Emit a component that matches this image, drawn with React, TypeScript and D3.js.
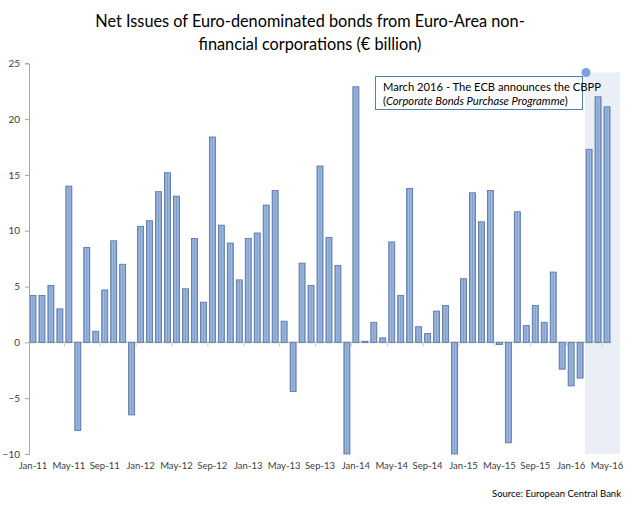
import React, { useEffect, useRef } from 'react';
import * as d3 from 'd3';

// monthly net issues, Jan-11 .. May-16 (EUR bn)
const values2011 = [4.2, 4.2, 5.1, 3.0, 14.0, -7.9, 8.5, 1.0, 4.7, 9.1, 7.0, -6.5];
const values2012 = [10.4, 10.9, 13.5, 15.2, 13.1, 4.8, 9.3, 3.6, 18.4, 10.5, 8.9, 5.6];
const values2013 = [9.3, 9.8, 12.3, 13.6, 1.9, -4.4, 7.1, 5.1, 15.8, 9.4, 6.9, -10.0];
const values2014 = [22.9, 0.1, 1.8, 0.4, 9.0, 4.2, 13.8, 1.4, 0.8, 2.8, 3.3, -10.0];
const values2015 = [5.7, 13.4, 10.8, 13.6, -0.2, -9.0, 11.7, 1.5, 3.3, 1.8, 6.3, -2.4];
const values2016 = [-3.9, -3.2, 17.3, 22.0, 21.1];

const yTicks = [-10, -5, 0, 5, 10, 15, 20, 25];
const highlighted = ['Mar-16', 'Apr-16', 'May-16'];

const title = [
  'Net Issues of Euro-denominated bonds from Euro-Area non-',
  'financial corporations (€ billion)',
];
const note = 'March 2016 - The ECB announces the CBPP';
const noteItalic = 'Corporate Bonds Purchase Programme';
const source = 'Source: European Central Bank';

const fmt = d3.timeFormat('%b-%y');
const months = d3.timeMonths(new Date(2011, 0, 1), new Date(2016, 5, 1)).map(fmt);
const values = [...values2011, ...values2012, ...values2013, ...values2014, ...values2015, ...values2016];
const data = months.map((m, i) => ({ month: m, value: values[i] }));

const FONT = 'Lato, "Open Sans", sans-serif';

function App() {
  const svgRef = useRef<SVGSVGElement>(null);

  useEffect(() => {
    document.body.style.margin = '0';
    const svg = d3.select(svgRef.current);
    svg.selectAll('*').remove();

    const x = d3.scaleBand()
      .domain(months)
      .range([28.5, 611.5])
      .paddingInner(0.33)
      .paddingOuter(0.165);

    const y = d3.scaleLinear()
      .domain([-10, 25])
      .range([454, 63.3]);

    const defs = svg.append('defs');
    const grad = defs.append('linearGradient')
      .attr('id', 'barGrad')
      .attr('x1', '0%').attr('x2', '100%')
      .attr('y1', '0%').attr('y2', '0%');
    grad.append('stop').attr('offset', '0%').attr('stop-color', '#6f8fc0');
    grad.append('stop').attr('offset', '30%').attr('stop-color', '#a3bde2');
    grad.append('stop').attr('offset', '50%').attr('stop-color', '#7d9ccc');
    grad.append('stop').attr('offset', '70%').attr('stop-color', '#a3bde2');
    grad.append('stop').attr('offset', '100%').attr('stop-color', '#6f8fc0');

    // shaded CBPP period
    const hx = x(highlighted[0])! - 1;
    svg.append('rect')
      .attr('x', hx)
      .attr('y', 72.5)
      .attr('width', 620 - hx)
      .attr('height', y(-10) - 72.5)
      .attr('fill', '#eaeff7');

    // zero line
    svg.append('line')
      .attr('x1', 29).attr('x2', 611.5)
      .attr('y1', y(0)).attr('y2', y(0))
      .attr('stroke', '#d4d4d4')
      .attr('stroke-width', 2);

    // category ticks every 4 months, on band boundaries
    const tickIdx = d3.range(4, months.length, 4);
    svg.append('g')
      .selectAll('line')
      .data(tickIdx)
      .enter()
      .append('line')
      .attr('x1', (i) => x(months[i])! - x.step() * x.paddingInner() / 2)
      .attr('x2', (i) => x(months[i])! - x.step() * x.paddingInner() / 2)
      .attr('y1', y(0))
      .attr('y2', y(0) + 4)
      .attr('stroke', '#c8c8c8');

    // bars
    svg.append('g')
      .selectAll('rect')
      .data(data)
      .enter()
      .append('rect')
      .attr('x', (d) => x(d.month)!)
      .attr('y', (d) => y(Math.max(0, d.value)))
      .attr('width', x.bandwidth())
      .attr('height', (d) => Math.abs(y(d.value) - y(0)))
      .attr('fill', 'url(#barGrad)')
      .attr('stroke', '#56729f')
      .attr('stroke-width', 0.8);

    // y axis
    const yAxis = svg.append('g')
      .attr('transform', 'translate(29,0)')
      .call(d3.axisLeft(y).tickValues(yTicks).tickSize(4).tickPadding(5).tickFormat(d3.format('d')));
    yAxis.select('.domain').attr('stroke', '#a6a6a6');
    yAxis.selectAll('.tick line').attr('stroke', '#a6a6a6');
    yAxis.selectAll('.tick text')
      .attr('fill', '#404040')
      .style('font-family', FONT)
      .style('font-size', '10px');

    // x labels
    svg.append('g')
      .selectAll('text')
      .data(d3.range(0, months.length, 4))
      .enter()
      .append('text')
      .attr('x', (i) => x(months[i])! + x.bandwidth() / 2)
      .attr('y', 469)
      .attr('text-anchor', 'middle')
      .attr('fill', '#404040')
      .style('font-family', FONT)
      .style('font-size', '9.5px')
      .text((i) => months[i]);

    // title
    svg.append('g')
      .selectAll('text')
      .data(title)
      .enter()
      .append('text')
      .attr('x', 310)
      .attr('y', (d, i) => 27 + i * 23)
      .attr('text-anchor', 'middle')
      .attr('fill', '#000')
      .style('font-family', FONT)
      .style('font-size', '16.3px')
      .text((d) => d);

    // annotation
    svg.append('rect')
      .attr('x', 375.5).attr('y', 76.5)
      .attr('width', 207).attr('height', 33)
      .attr('fill', '#fff')
      .attr('stroke', '#4f81bd');
    svg.append('circle')
      .attr('cx', 586).attr('cy', 72.5).attr('r', 4.5)
      .attr('fill', '#7aa3d9');
    svg.append('text')
      .attr('x', 383).attr('y', 91)
      .attr('fill', '#000')
      .style('font-family', FONT)
      .style('font-size', '11.2px')
      .text(note);
    const t2 = svg.append('text')
      .attr('x', 383).attr('y', 105)
      .attr('fill', '#000')
      .style('font-family', FONT)
      .style('font-size', '11.2px');
    t2.append('tspan').text('(');
    t2.append('tspan').style('font-style', 'italic').text(noteItalic);
    t2.append('tspan').text(')');

    // source
    svg.append('text')
      .attr('x', 621).attr('y', 497)
      .attr('text-anchor', 'end')
      .attr('fill', '#000')
      .style('font-family', FONT)
      .style('font-size', '9.5px')
      .text(source);
  }, []);

  return <svg ref={svgRef} width={640} height={506} style={{ display: 'block', background: '#fff' }} />;
}

export default App;
